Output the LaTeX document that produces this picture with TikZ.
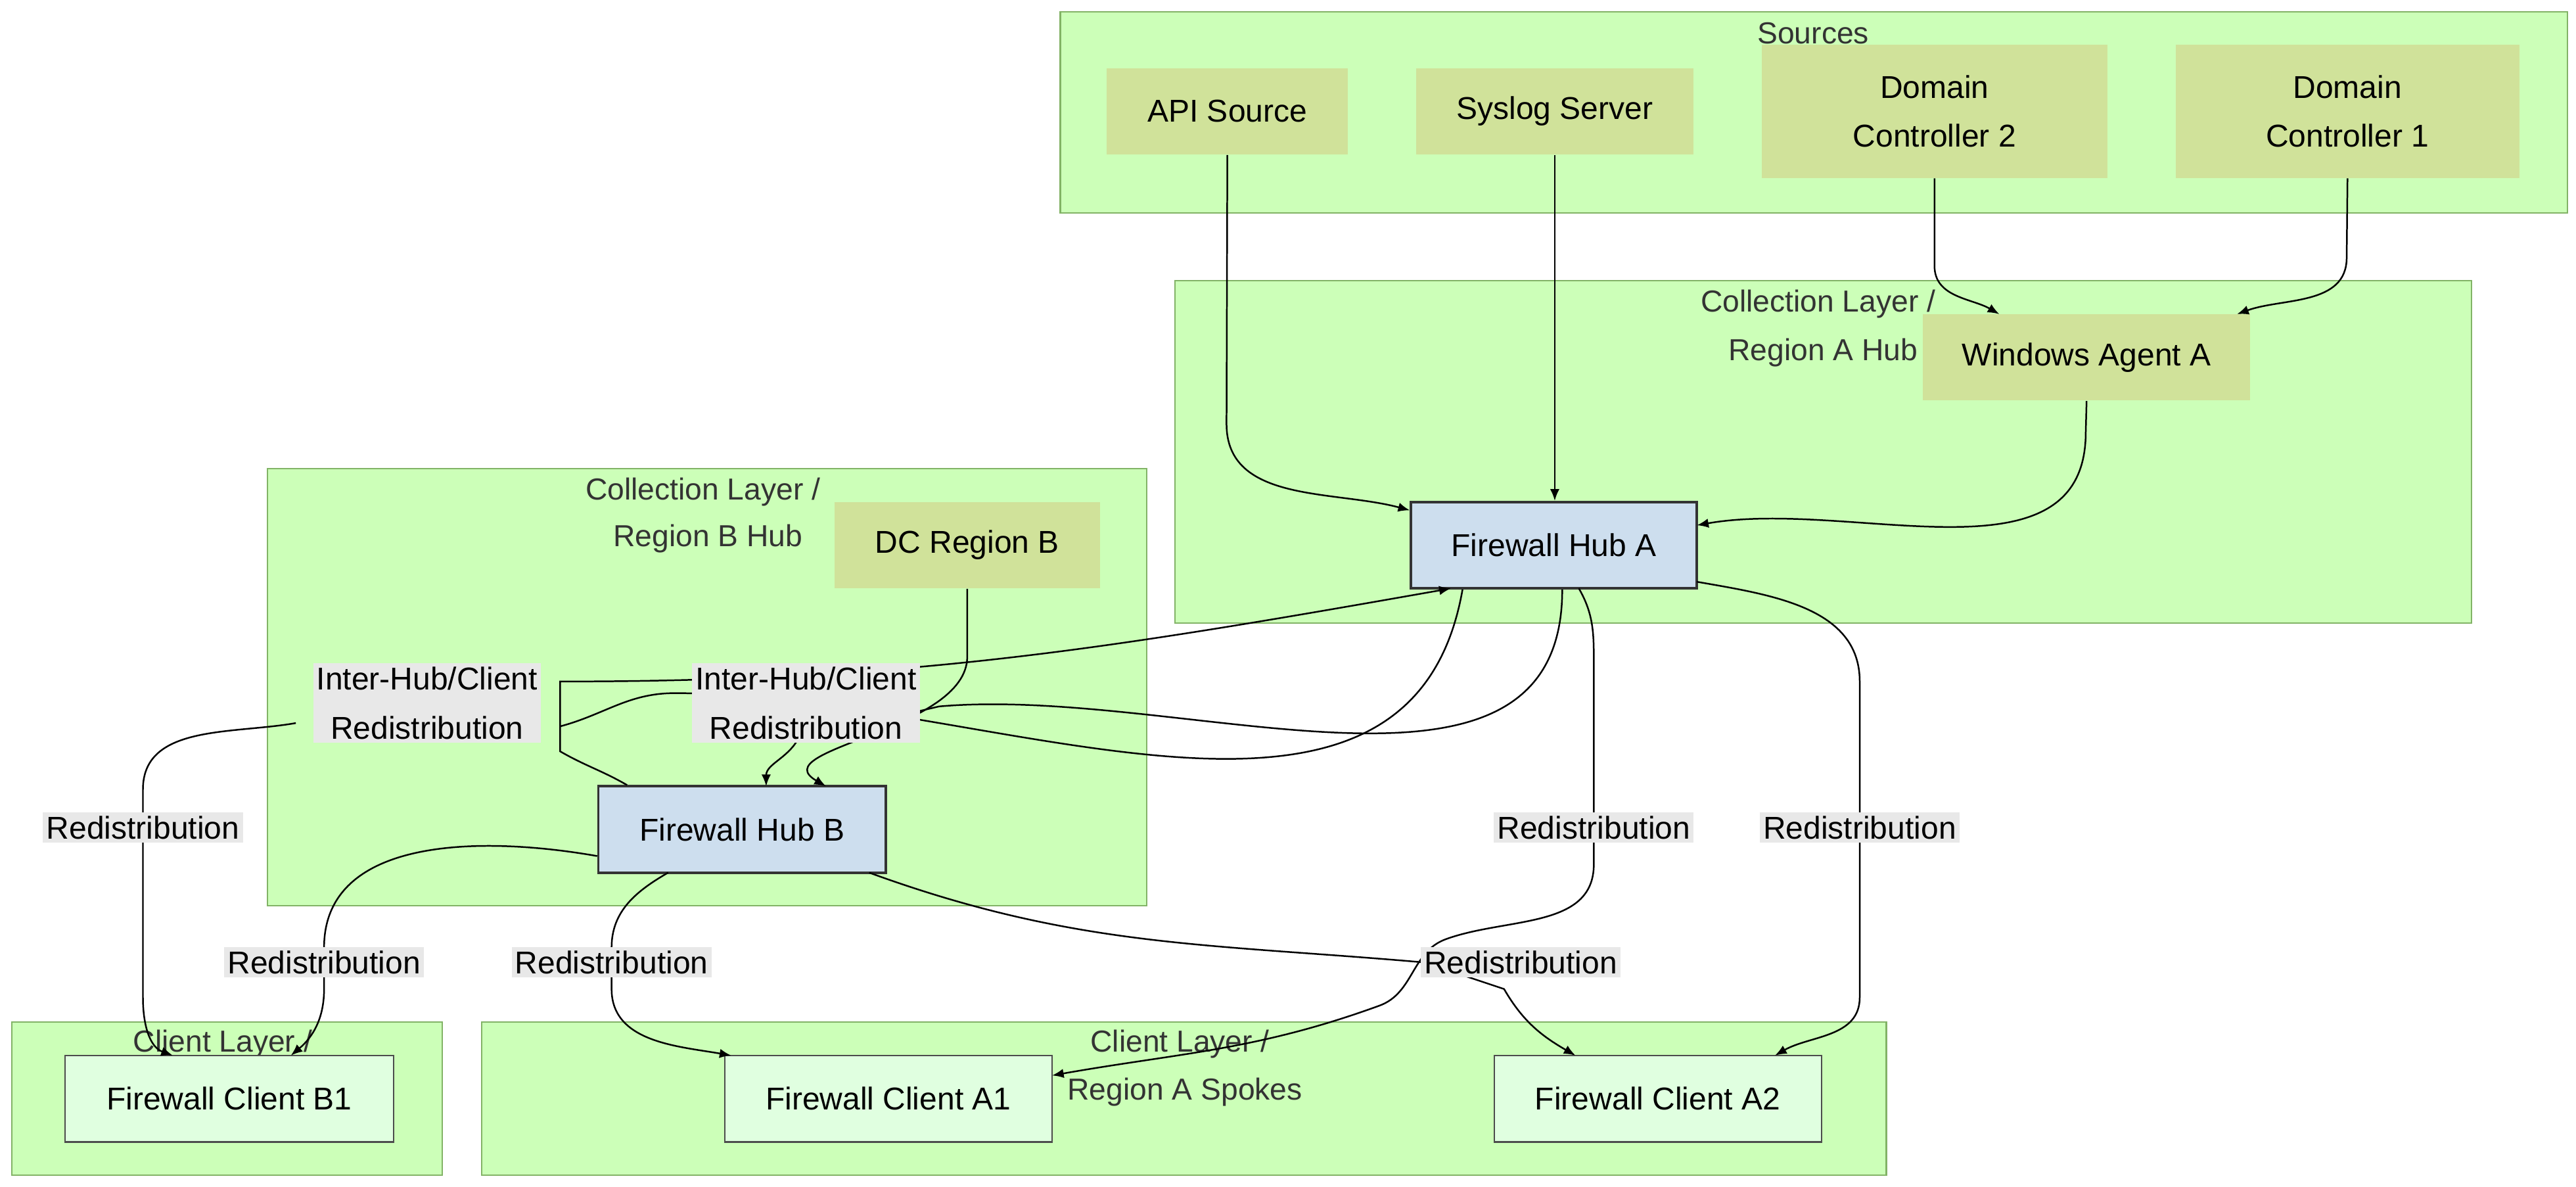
\documentclass[tikz,border=0pt]{standalone}
\usepackage{fontspec}
\setmainfont{Liberation Sans}
\usetikzlibrary{arrows.meta}
\definecolor{grp}{HTML}{CCFFB8}
\definecolor{grpb}{HTML}{82B366}
\definecolor{src}{HTML}{D0E29A}
\definecolor{hub}{HTML}{CDDEEE}
\definecolor{cli}{HTML}{E0FFE0}
\definecolor{lbl}{HTML}{E8E8E8}
\tikzset{
 grpbox/.style={draw=grpb,fill=grp,line width=0.6pt},
 grplbl/.style={font=\fontsize{13}{16}\selectfont,text=black!80,align=center,inner sep=0pt},
 srcn/.style={fill=src,draw=none,font=\fontsize{13.5}{21}\selectfont,align=center,inner sep=0pt},
 hubn/.style={fill=hub,draw=black!80,line width=1pt,font=\fontsize{13.5}{16}\selectfont,inner sep=0pt},
 clin/.style={fill=cli,draw=black!70,line width=0.6pt,font=\fontsize{13.5}{16}\selectfont,inner sep=0pt},
 lab/.style={fill=lbl,font=\fontsize{13.5}{21}\selectfont,align=center,inner sep=1.5pt},
 e/.style={draw=black,line width=0.7pt,-{Latex[length=5pt,width=4pt]}},
 ln/.style={draw=black,line width=0.7pt}
}
\newcommand{\bx}[5]{\node[#1,minimum width={(#4-#2)*0.025cm},minimum height={(#5-#3)*0.025cm}] (#1x) at ({(#2+#4)/2},{(#3+#5)/2}) {};}
\begin{document}
\begin{tikzpicture}[x=0.025cm,y=-0.025cm]
\useasboundingbox (0,0) rectangle (1550,714);
% groups
\draw[grpbox] (638,7) rectangle (1545,128);
\node[grplbl] (gs) at (1091,20) {Sources};
\draw[grpbox] (707,169) rectangle (1487,375);
\node[grplbl] (ga1) at (1094,183) {Collection Layer /};
\node[grplbl] (ga2) at (1097,212) {Region A Hub};
\draw[grpbox] (161,282) rectangle (690,545);
\node[grplbl] (gb1) at (423,296) {Collection Layer /};
\node[grplbl] (gb2) at (426,324) {Region B Hub};
\draw[grpbox] (7,615) rectangle (266,707);
\node[grplbl] (gc1) at (134,628) {Client Layer /};
\draw[grpbox] (290,615) rectangle (1135,707);
\node[grplbl] (gd1) at (710,628) {Client Layer /};
\node[grplbl] (gd2) at (713,657) {Region A Spokes};
% nodes
\node[srcn,minimum width=145*0.025cm,minimum height=52*0.025cm] (api) at (738.5,67) {API Source};
\node[srcn,minimum width=167*0.025cm,minimum height=52*0.025cm] (sys) at (935.5,67) {Syslog Server};
\node[srcn,minimum width=208*0.025cm,minimum height=80*0.025cm] (dc2) at (1164,67) {Domain\\Controller 2};
\node[srcn,minimum width=207*0.025cm,minimum height=80*0.025cm] (dc1) at (1412.5,67) {Domain\\Controller 1};
\node[srcn,minimum width=197*0.025cm,minimum height=52*0.025cm] (win) at (1255.5,215) {Windows Agent A};
\node[srcn,minimum width=160*0.025cm,minimum height=52*0.025cm] (dcb) at (582,328) {DC Region B};
\node[hubn,minimum width=172*0.025cm,minimum height=52*0.025cm] (ha) at (935,328) {Firewall Hub A};
\node[hubn,minimum width=173*0.025cm,minimum height=52*0.025cm] (hb) at (446.5,499) {Firewall Hub B};
\node[clin,minimum width=198*0.025cm,minimum height=52*0.025cm] (cb1) at (138,661) {Firewall Client B1};
\node[clin,minimum width=197*0.025cm,minimum height=52*0.025cm] (ca1) at (534.5,661) {Firewall Client A1};
\node[clin,minimum width=197*0.025cm,minimum height=52*0.025cm] (ca2) at (997.5,661) {Firewall Client A2};
% edge coordinates
\coordinate (l1) at (257,423);
\coordinate (l2) at (485,423);
% edges
\draw[e] (api.south) -- (738,255) to[out=-90,in=165] (ha.north west|-0,307);
\draw[e] (sys.south) -- (sys.south|-ha.north);
\draw[e] (dc2.south) -- (1164,160) to[out=-90,in=150] (1203,189);
\draw[e] (dc1.south) -- (1412,155) to[out=-90,in=20] (1346,189);
\draw[e] (win.south) -- (1255,260) to[out=-90,in=10] (1021,316);
\draw[e] (dcb.south) -- (582,395) to[out=-90,in=150] (497,473);
\draw[e] (hb.north west)++(18,0) coordinate (hbs) (hbs) to[out=150,in=-30] (337,452) -- (337,410) to[out=0,in=-170] (873,354);
\draw[e] (ha.south)++(5,0) coordinate (has) (has) to[out=-90,in=5] (565,425) -- (480,445) to[out=-120,in=90] (461,473);
\draw[ln] (ha.south)++(-55,0) coordinate (has2) (has2) to[out=-100,in=0] (406,417) to[out=180,in=15] (337,437);
\draw[e] (178,435) to[out=-170,in=90] (86,475) -- (86,600) to[out=-90,in=160] (104,635);
\draw[e] (hb.west)++(0,16) coordinate (hbw) (hbw) to[out=170,in=90] (195,570) -- (195,595) to[out=-90,in=40] (175,635);
\draw[e] (402,525) to[out=-150,in=90] (368,570) -- (368,595) to[out=-90,in=170] (440,635);
\draw[e] (523,525) to[out=-20,in=175] (857,579) -- (905,595) to[out=-60,in=150] (948,635);
\draw[e] (950,354) to[out=-60,in=90] (959,400) -- (959,520) to[out=-90,in=20] (870,565) to[out=-160,in=20] (830,605) to[out=-160,in=10] (633,647);
\draw[e] (1021,350) to[out=-10,in=90] (1119,410) -- (1119,600) to[out=-90,in=30] (1068,635);
% labels
\node[lab] (lb1) at (l1) {Inter-Hub/Client\\Redistribution};
\node[lab] (lb2) at (l2) {Inter-Hub/Client\\Redistribution};
\node[lab] (r1) at (86,498) {Redistribution};
\node[lab] (r2) at (959,498) {Redistribution};
\node[lab] (r3) at (1119,498) {Redistribution};
\node[lab] (r4) at (195,579) {Redistribution};
\node[lab] (r5) at (368,579) {Redistribution};
\node[lab] (r6) at (915,579) {Redistribution};
\end{tikzpicture}
\end{document}
